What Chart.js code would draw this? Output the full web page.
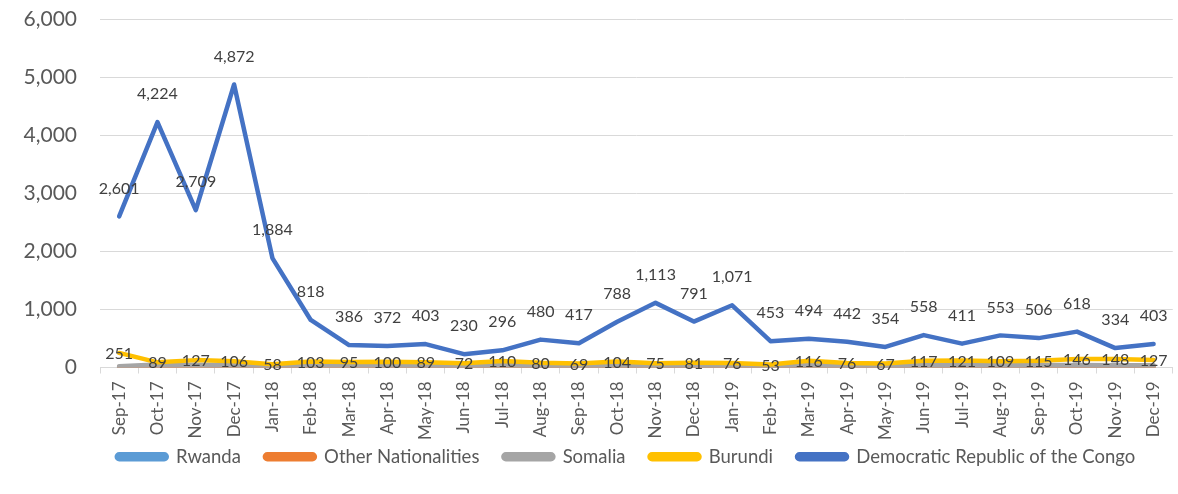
<!DOCTYPE html>
<html>
<head>
<meta charset="utf-8">
<script src="https://cdn.jsdelivr.net/npm/chart.js@4.4.1/dist/chart.umd.min.js"></script>
<style>
  html, body { margin: 0; padding: 0; background: #ffffff; overflow: hidden; }
  #wrap { width: 1182px; height: 494px; }
</style>
</head>
<body>
<div id="wrap"><canvas id="c" width="1182" height="494"></canvas></div>
<script>
const months = ["Sep-17","Oct-17","Nov-17","Dec-17","Jan-18","Feb-18","Mar-18","Apr-18","May-18","Jun-18","Jul-18","Aug-18","Sep-18","Oct-18","Nov-18","Dec-18","Jan-19","Feb-19","Mar-19","Apr-19","May-19","Jun-19","Jul-19","Aug-19","Sep-19","Oct-19","Nov-19","Dec-19"];
const rwanda = [3,3,3,2,2,2,2,2,2,2,2,2,2,2,2,2,2,2,2,2,2,2,2,2,2,2,2,2];
const otherNationalities = [10,12,10,8,8,7,6,6,5,5,6,5,5,6,5,5,5,5,8,10,12,8,6,5,5,5,4,4];
const somalia = [20,50,48,45,40,42,45,42,40,38,42,40,38,42,40,40,38,35,40,38,35,40,42,40,42,45,40,38];
const burundi = [251,89,127,106,58,103,95,100,89,72,110,80,69,104,75,81,76,53,116,76,67,117,121,109,115,146,148,127];
const drc = [2601,4224,2709,4872,1884,818,386,372,403,230,296,480,417,788,1113,791,1071,453,494,442,354,558,411,553,506,618,334,403];
const yTicks = [0,1000,2000,3000,4000,5000,6000];

const FONT = "Lato, 'Noto Sans', sans-serif";
const fmt = v => v.toLocaleString('en-US');

const labelPlugin = {
  id: 'valueLabels',
  afterDatasetsDraw(chart) {
    const ctx = chart.ctx;
    ctx.save();
    ctx.font = "16px " + FONT;
    ctx.fillStyle = "#404040";
    ctx.textAlign = "center";
    ctx.textBaseline = "middle";
    chart.data.datasets.forEach((ds, di) => {
      if (!ds.showLabels) return;
      const meta = chart.getDatasetMeta(di);
      meta.data.forEach((pt, i) => {
        const y = ds.showLabels === 'above' ? pt.y - 28 : pt.y + 1;
        ctx.fillText(fmt(ds.data[i]), pt.x, y);
      });
    });
    ctx.restore();
  }
};

const legendShift = {
  id: 'legendShift',
  afterLayout(chart) {
    const lg = chart.legend;
    if (lg) { lg.left += 35; lg.right += 35; lg.top -= 18; lg.bottom -= 18; }
  }
};

const lineStyle = (label, data, color, order, extra) => Object.assign({
  label, data, borderColor: color, backgroundColor: color,
  borderWidth: 4.5, pointRadius: 0, pointHoverRadius: 0, tension: 0,
  borderJoinStyle: 'round', borderCapStyle: 'round', fill: false, order
}, extra || {});

new Chart(document.getElementById('c'), {
  type: 'line',
  data: {
    labels: months,
    datasets: [
      lineStyle('Rwanda', rwanda, '#5B9BD5', 5),
      lineStyle('Other Nationalities', otherNationalities, '#ED7D31', 4),
      lineStyle('Somalia', somalia, '#A5A5A5', 3),
      lineStyle('Burundi', burundi, '#FFC000', 2, { showLabels: 'center' }),
      lineStyle('Democratic Republic of the Congo', drc, '#4472C4', 1, { showLabels: 'above' })
    ]
  },
  options: {
    responsive: false,
    animation: false,
    layout: { padding: { top: 19, right: 0, bottom: 0, left: 0 } },
    plugins: {
      tooltip: { enabled: false },
      legend: {
        position: 'bottom',
        labels: {
          boxWidth: 50, boxHeight: 5, padding: 24,
          useBorderRadius: true, borderRadius: 2.5,
          color: '#595959', font: { family: FONT, size: 18.5 },
          sort: (a, b) => a.datasetIndex - b.datasetIndex
        }
      }
    },
    scales: {
      x: {
        type: 'category',
        offset: true,
        grid: { display: true, drawOnChartArea: false, drawTicks: true, tickLength: 6, color: '#D9D9D9', offset: true },
        border: { display: true, color: '#D9D9D9', width: 1 },
        ticks: { color: '#595959', font: { family: FONT, size: 17 }, minRotation: 90, maxRotation: 90, autoSkip: false, padding: 8 },
        afterFit(scale) { scale.height = 74; }
      },
      y: {
        min: 0, max: 6000,
        afterBuildTicks(scale) { scale.ticks = yTicks.map(v => ({ value: v })); },
        grid: { color: '#D9D9D9', lineWidth: 1, drawTicks: false },
        border: { display: false },
        ticks: { color: '#595959', font: { family: FONT, size: 21 }, padding: 23, callback: v => fmt(v) },
        afterFit(scale) { scale.width = 100; scale.paddingTop = 0; scale.paddingBottom = 0; }
      }
    }
  },
  plugins: [labelPlugin, legendShift]
});
</script>
</body>
</html>
